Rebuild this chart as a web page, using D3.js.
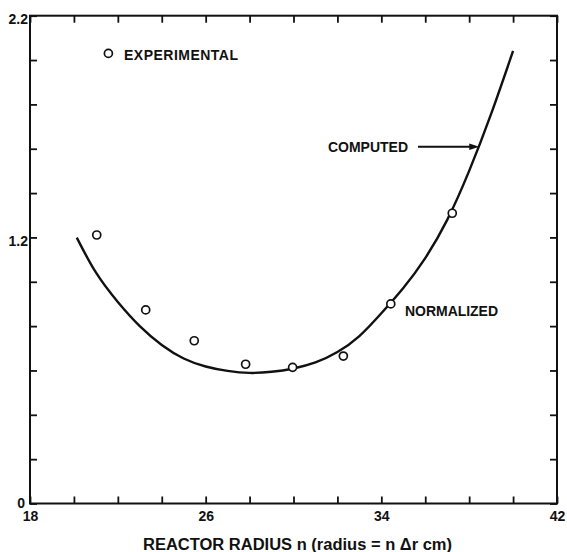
<!DOCTYPE html>
<html>
<head>
<meta charset="utf-8">
<script src="https://cdn.jsdelivr.net/npm/d3@7"></script>
<style>
  html, body { margin: 0; padding: 0; background: #fff; }
  svg { display: block; }
  text { font-family: "Liberation Sans", Arial, sans-serif; font-weight: bold; fill: #111; }
</style>
</head>
<body>
<svg id="chart" width="567" height="552"></svg>
<script>
// Experimental power ratio at reactor radius n
const expRadius = [21.04, 23.27, 25.48, 27.82, 29.96, 32.27, 34.43, 37.23];
const expValue  = [1.211, 0.873, 0.734, 0.628, 0.614, 0.665, 0.900, 1.309];

// Computed curve (normalized), sampled at each radius step
const compRadius = [20.13, 21, 22, 23, 24, 25, 26, 27, 28, 29, 30, 31, 32, 33, 34, 35, 36, 37, 38, 39, 40];
const compValue  = [1.199, 1.042, 0.909, 0.800, 0.715, 0.654, 0.618, 0.598, 0.589, 0.594, 0.609,
                    0.636, 0.683, 0.755, 0.858, 0.972, 1.107, 1.279, 1.500, 1.757, 2.041];

// Axis ticks and the labels printed on them
const xTicks = d3.range(18, 42.001, 2);
const xTickLabels = [18, 26, 34, 42];
const yTicks = d3.range(0, 11.5).map(i => +(i * 0.2).toFixed(1));
const yTickLabels = [0, 1.2, 2.2];

const svg = d3.select("#chart");
const plotLeft = 30, plotRight = 557, plotTop = 15.7, plotBottom = 503.5;
const x = d3.scaleLinear().domain([18, 42]).range([plotLeft, plotRight]);
const y = d3.scaleLinear().domain([0, 2.2]).range([plotBottom, plotTop]);

const tick = 7;
const fmt = d => (Number.isInteger(d) ? String(d) : d.toFixed(1));

// Axes: ticks pointing into the plot, labels only at selected values
const gB = svg.append("g").attr("transform", `translate(0,${plotBottom})`)
  .call(d3.axisBottom(x).tickValues(xTicks).tickSize(-tick).tickPadding(8)
    .tickFormat(d => xTickLabels.includes(d) ? fmt(d) : ""));
const gT = svg.append("g").attr("transform", `translate(0,${plotTop})`)
  .call(d3.axisTop(x).tickValues(xTicks).tickSize(-tick).tickFormat(""));
const gL = svg.append("g").attr("transform", `translate(${plotLeft},0)`)
  .call(d3.axisLeft(y).tickValues(yTicks).tickSize(-tick).tickPadding(2)
    .tickFormat(d => yTickLabels.includes(d) ? fmt(d) : ""));
const gR = svg.append("g").attr("transform", `translate(${plotRight},0)`)
  .call(d3.axisRight(y).tickValues(yTicks).tickSize(-tick).tickFormat(""));

[gB, gT, gL, gR].forEach(g => {
  g.select(".domain").remove();
  g.selectAll(".tick line").attr("stroke", "#111").attr("stroke-width", 1.8);
  g.selectAll(".tick text").attr("font-size", 14).attr("font-family", null).attr("fill", "#111");
});
gL.selectAll(".tick text").attr("dy", "0.55em");
gL.selectAll(".tick text").filter(d => d === 0).attr("dx", -3).attr("dy", "0.3em");

// Frame
svg.append("rect")
  .attr("x", plotLeft).attr("y", plotTop)
  .attr("width", plotRight - plotLeft).attr("height", plotBottom - plotTop)
  .attr("fill", "none").attr("stroke", "#111").attr("stroke-width", 2);

// Computed curve (smooth cubic spline through the computed values)
const line = d3.line().x(d => x(d[0])).y(d => y(d[1])).curve(d3.curveNatural);
svg.append("path")
  .datum(d3.zip(compRadius, compValue))
  .attr("d", line)
  .attr("fill", "none").attr("stroke", "#111").attr("stroke-width", 2.4);

// Experimental points
svg.append("g").selectAll("circle")
  .data(d3.zip(expRadius, expValue))
  .join("circle")
  .attr("cx", d => x(d[0])).attr("cy", d => y(d[1]))
  .attr("r", 4).attr("fill", "#fff").attr("stroke", "#111").attr("stroke-width", 1.7);

// Legend
svg.append("circle")
  .attr("cx", x(21.57)).attr("cy", y(2.03))
  .attr("r", 4).attr("fill", "#fff").attr("stroke", "#111").attr("stroke-width", 1.7);
svg.append("text").attr("x", 124).attr("y", 60).attr("font-size", 14)
  .attr("textLength", 114).attr("lengthAdjust", "spacing").text("EXPERIMENTAL");

// Annotations
svg.append("text").attr("x", 328).attr("y", 152).attr("font-size", 14)
  .attr("textLength", 80).attr("lengthAdjust", "spacing").text("COMPUTED");
const ay = y(1.609), ax1 = 418, ax2 = x(38.46);
svg.append("line").attr("x1", ax1).attr("y1", ay).attr("x2", ax2 - 7).attr("y2", ay)
  .attr("stroke", "#111").attr("stroke-width", 2);
svg.append("path")
  .attr("d", `M${ax2},${ay} L${ax2 - 10},${ay - 3.2} L${ax2 - 10},${ay + 3.2} Z`)
  .attr("fill", "#111");
svg.append("text").attr("x", 405).attr("y", 316).attr("font-size", 14)
  .attr("textLength", 93).attr("lengthAdjust", "spacing").text("NORMALIZED");

// Axis title
svg.append("text")
  .attr("x", 143).attr("y", 550).attr("font-size", 16)
  .attr("textLength", 309).attr("lengthAdjust", "spacingAndGlyphs")
  .text("REACTOR RADIUS n (radius = n Δr cm)");
</script>
</body>
</html>
